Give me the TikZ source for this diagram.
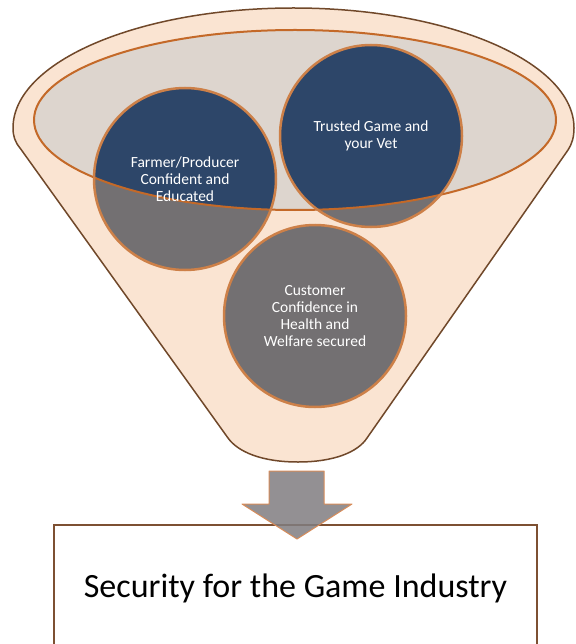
\documentclass[tikz,border=0pt]{standalone}
\usepackage{fontspec}
\setmainfont{Carlito}
\usetikzlibrary{positioning}

\definecolor{funnelfill}{RGB}{250,228,210}
\definecolor{funneledge}{RGB}{112,72,42}
\definecolor{mouthfill}{RGB}{221,213,206}
\definecolor{ringorange}{RGB}{196,105,40}
\definecolor{bubbleblue}{RGB}{45,70,105}
\definecolor{bubblegrey}{RGB}{115,112,114}
\definecolor{bubbleedge}{RGB}{205,128,72}
\definecolor{arrowgrey}{RGB}{128,125,128}
\definecolor{arrowedge}{RGB}{215,140,90}
\definecolor{boxedge}{RGB}{125,80,50}

\begin{document}
\begin{tikzpicture}[
x=1pt, y=-1pt,
funnel/.style={fill=funnelfill, draw=funneledge, line width=1.5pt, line join=round},
ring/.style={draw=ringorange, line width=2pt},
bubble/.style={draw=bubbleedge, line width=2.5pt, circle, minimum size=182pt, inner sep=0pt, align=center, text=white, font=\fontsize{15.5}{16.8}\selectfont},
outbox/.style={draw=boxedge, line width=1.2pt, rectangle, minimum width=483pt, minimum height=127pt, font=\fontsize{34}{40}\selectfont},
blockarrow/.style={fill=arrowgrey, draw=arrowedge, line width=1pt, fill opacity=0.85, line join=round}
]
\useasboundingbox (0,0) rectangle (575,644);

% funnel body
\draw[funnel] (20,148) -- (228,438) .. controls (238,452) and (262,462) .. (298,462)
  .. controls (334,462) and (358,452) .. (367,438) -- (568,150)
  .. controls (572,144) and (574,137) .. (574,128)
  .. controls (574,62) and (449,8) .. (293.5,8)
  .. controls (138,8) and (13,62) .. (13,128)
  .. controls (13,136) and (15,142) .. (20,148) -- cycle;
\fill[mouthfill] (295,120) ellipse [x radius=261pt, y radius=90pt];

\coordinate (c1) at (185,179);
\coordinate (c2) at (371,136);
\coordinate (c3) at (315,316);

% bubbles, blue inside the mouth
\fill[bubblegrey] (c1) circle (91pt) (c2) circle (91pt) (c3) circle (91pt);
\begin{scope}
\clip (295,120) ellipse [x radius=261pt, y radius=90pt];
\fill[bubbleblue] (c1) circle (91pt) (c2) circle (91pt);
\end{scope}
\draw[ring] (295,120) ellipse [x radius=261pt, y radius=90pt];

\node[bubble] (farmer) at (c1) {Farmer/Producer\\Confident and\\Educated};
\node[bubble] (trusted) at (c2) {Trusted Game and\\your Vet};
\node[bubble] (customer) at (c3) {Customer\\Confidence in\\Health and\\Welfare secured};

% result
\node[outbox] (security) at (295.5,588.5) {Security for the Game Industry};
\draw[blockarrow] (269,471) -- (324,471) -- (324,504) -- (352,504) -- (297,539)
  -- (242,504) -- (269,504) -- cycle;

\end{tikzpicture}
\end{document}
